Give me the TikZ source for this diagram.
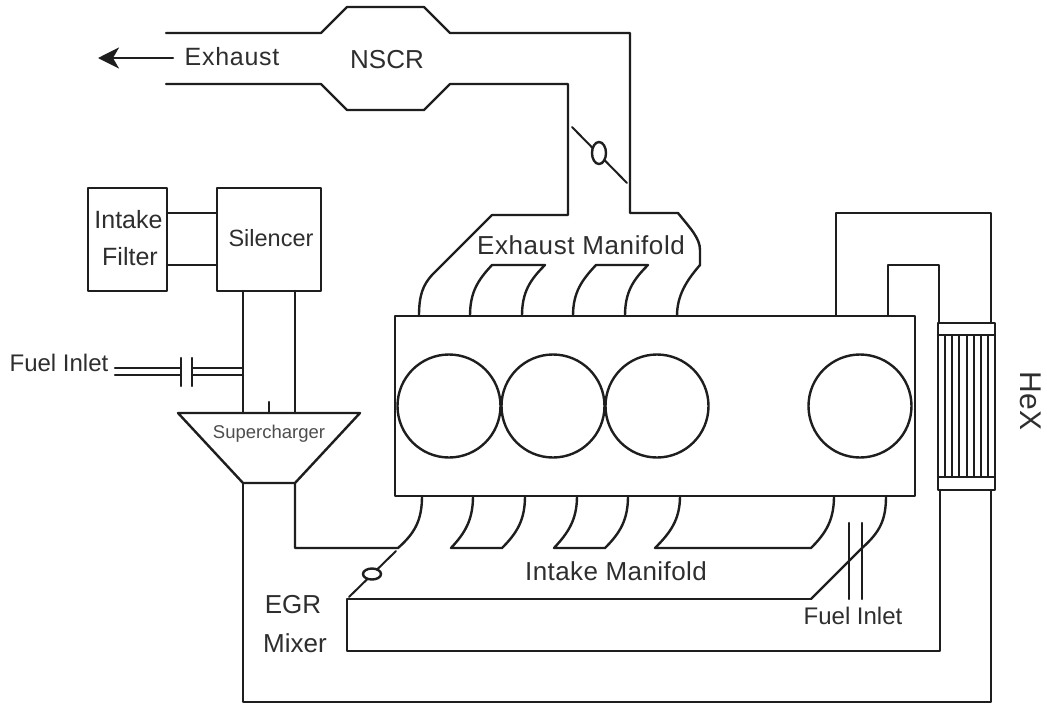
\documentclass[tikz,border=0pt]{standalone}
\usepackage{fontspec}
\setmainfont{Liberation Sans}
\usetikzlibrary{arrows.meta}
\definecolor{ink}{HTML}{1E1E1E}
\definecolor{txt}{HTML}{2E2E2E}
\tikzset{
  pipe/.style={draw=ink,line width=2.4pt,line join=round,line cap=round},
  thin pipe/.style={draw=ink,line width=2pt,line cap=round},
  label text/.style={text=txt,inner sep=0pt,font=\fontsize{25}{27}\selectfont},
  small text/.style={text=txt!85,inner sep=0pt,font=\fontsize{18.5}{20}\selectfont}
}
\begin{document}
\begin{tikzpicture}[x=1pt,y=-1pt]
\useasboundingbox[fill=white] (0,0) rectangle (1047,705);
% Exhaust arrow
\coordinate (arS) at (173,58);
\coordinate (arE) at (98,58);
\draw[pipe,-{Stealth[length=21pt,width=21pt,inset=6pt]}] (arS) -- (arE);
% NSCR and exhaust pipes
\draw[pipe] (166,33) -- (321,33) -- (347,7) -- (424,7) -- (450,33) -- (630,33) -- (630,213) -- (678,213)
  .. controls (690,228) and (700,238) .. (700,250) -- (700,265)
  .. controls (687,280) and (677,295) .. (677,316);
\draw[pipe] (166,84) -- (321,84) -- (347,110) -- (424,110) -- (450,84) -- (568,84) -- (568,215) -- (492,215) -- (432,275)
  .. controls (423,285) and (419,295) .. (419,316);
% exhaust manifold ports
\draw[pipe] (470,316) .. controls (470,292) and (478,280) .. (492,265) -- (545,265)
  .. controls (530,280) and (522,292) .. (522,316);
\draw[pipe] (573,316) .. controls (573,292) and (582,280) .. (596,265) -- (648,265)
  .. controls (633,280) and (625,292) .. (625,316);
% exhaust valve
\draw[thin pipe] (572,127) -- (627,183);
\draw[pipe,fill=white] (599,153) circle[x radius=7,y radius=11];
% engine
\draw[pipe] (395,316) rectangle (915,496);
\foreach \cx/\nm in {449/a,553/b,657/c,860/d}
  \draw[pipe] (\cx,406) circle[radius=51.5];
% intake filter and silencer
\draw[pipe] (88,188) rectangle (167,291);
\draw[pipe] (217,188) rectangle (321,291);
\draw[pipe] (167,213) -- (217,213);
\draw[pipe] (167,265) -- (217,265);
% pipes to supercharger
\draw[pipe] (243,291) -- (243,413);
\draw[pipe] (295,291) -- (295,413);
\draw[pipe] (269,402) -- (269,413);
\draw[pipe] (178,413) -- (360,413) -- (295,483) -- (243,483) -- cycle;
% fuel inlet left
\draw[pipe] (115,368) -- (181,368);
\draw[pipe] (115,375) -- (181,375);
\draw[pipe] (192,368) -- (243,368);
\draw[pipe] (192,375) -- (243,375);
\draw[pipe] (181,358) -- (181,386);
\draw[pipe] (192,358) -- (192,386);
% supercharger outlets
\draw[pipe] (243,483) -- (243,702) -- (991,702) -- (991,490);
\draw[pipe] (295,483) -- (295,548) -- (398,548) .. controls (415,533) and (422,520) .. (422,496);
% EGR valve
\draw[thin pipe] (396,551) -- (349,597);
\draw[pipe,fill=white] (372,574) circle[x radius=9,y radius=5.5];
% EGR mixer pipe
\draw[pipe] (811,599) -- (347,599) -- (347,651) -- (940,651) -- (940,490);
\draw[pipe] (811,599) -- (862,548) .. controls (880,532) and (886,520) .. (886,496);
% intake manifold ports
\draw[pipe] (473,496) .. controls (473,520) and (465,533) .. (451,548) -- (502,548)
  .. controls (517,533) and (525,520) .. (525,496);
\draw[pipe] (577,496) .. controls (577,520) and (568,533) .. (554,548) -- (605,548)
  .. controls (620,533) and (628,520) .. (628,496);
\draw[pipe] (680,496) .. controls (680,520) and (670,533) .. (655,548) -- (811,548)
  .. controls (826,533) and (834,520) .. (834,496);
% fuel inlet bars
\draw[pipe] (849,523) -- (849,599);
\draw[pipe] (862,523) -- (862,599);
% HeX
\draw[pipe] (938,323) rectangle (995,490);
\draw[pipe] (938,335) -- (995,335);
\draw[pipe] (938,477) -- (995,477);
\foreach \vx in {945,952,959,966.5,973.5,980.5,987.5}
  \draw[thin pipe] (\vx,335) -- (\vx,477);
\draw[pipe] (836,316) -- (836,213) -- (991,213) -- (991,323);
\draw[pipe] (888,316) -- (888,265) -- (939,265) -- (939,323);
% labels
\node[label text] (lblExhaust) at (232,57) {\addfontfeature{LetterSpace=3}Exhaust};
\node[label text,font=\fontsize{26}{28}\selectfont] (lblNSCR) at (387,60) {NSCR};
\node[label text] (lblIntake) at (128.5,220) {Intake};
\node[label text] (lblFilter) at (130,257) {Filter};
\node[label text,font=\fontsize{23.5}{26}\selectfont] (lblSilencer) at (271,238) {Silencer};
\node[label text,font=\fontsize{26}{28}\selectfont] (lblExMan) at (581,245) {\addfontfeature{LetterSpace=2.3}Exhaust Manifold};
\node[label text,font=\fontsize{26}{28}\selectfont] (lblInMan) at (616,571) {\addfontfeature{LetterSpace=1.6}Intake Manifold};
\node[label text,font=\fontsize{24}{26}\selectfont] (lblFuelA) at (59,363) {Fuel Inlet};
\node[small text] (lblSuper) at (269,434) {Supercharger};
\node[label text,font=\fontsize{26}{28}\selectfont] (lblEGR) at (293,605) {EGR};
\node[label text,font=\fontsize{26}{28}\selectfont] (lblMixer) at (295,643) {Mixer};
\node[label text,font=\fontsize{24}{26}\selectfont] (lblFuelB) at (853,616) {Fuel Inlet};
\node[label text,rotate=-90,font=\fontsize{30}{32}\selectfont] (lblHeX) at (1031,401) {HeX};
\end{tikzpicture}
\end{document}
